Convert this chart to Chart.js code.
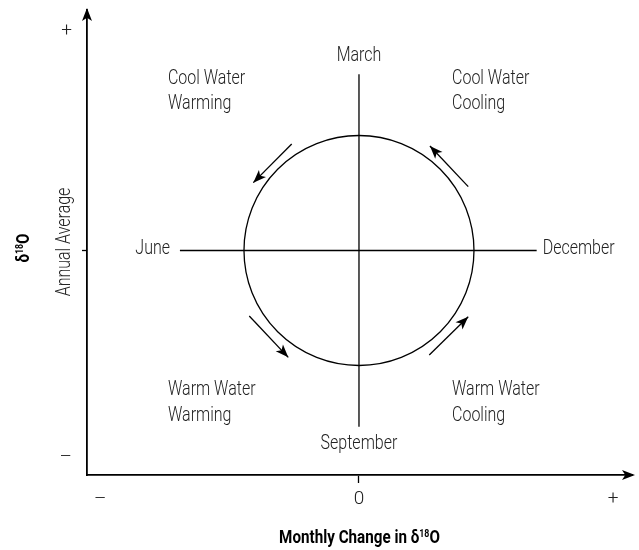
<!DOCTYPE html>
<html>
<head>
<meta charset="utf-8">
<script src="https://cdn.jsdelivr.net/npm/chart.js@4.4.1/dist/chart.umd.min.js"></script>
<style>
  html, body { margin: 0; background: #fff; }
  #wrap { width: 639px; height: 550px; }
</style>
</head>
<body>
<div id="wrap"><canvas id="c"></canvas></div>
<script>
const FONT = "Roboto, 'Liberation Sans', sans-serif";
const SQUEEZE = 0.8;   // the original uses a condensed face
const TEXT_DY = 2;     // roboto sits a bit high with 'middle'
const LABEL_FONT = `300 20px ${FONT}`;
const TEXT_COL = '#222';

// everything in units of the circle radius, origin at the circle centre
const xRange      = [-2.365, 2.374];
const yRange      = [-1.952, 2.091];
const xTickVals   = [-2.25, 0, 2.21];
const xTickLabels = ['–', '0', '+'];
const yTickVals   = [1.91, 0, -1.80];
const yTickLabels = ['+', '', '–'];

const circle = { x: 0, y: 0, r: 1 };
const crossH = [[-1.557, 0], [1.545, 0]];
const crossV = [[0, 1.532], [0, -1.532]];

// [tail, tip]
const cycleArrows = [
  [[-0.585,  0.926], [-0.919,  0.590]],
  [[ 0.950,  0.555], [ 0.617,  0.909]],
  [[-0.954, -0.570], [-0.615, -0.929]],
  [[ 0.611, -0.909], [ 0.950, -0.576]],
];

const monthNames = ['March', 'December', 'September', 'June'];
const monthPos   = [[0, 1.709], [1.597, 0.033], [0, -1.663], [-1.643, 0.033]];
const monthAlign = ['center', 'left', 'center', 'right'];

const quadNames = [['Cool Water', 'Warming'], ['Cool Water', 'Cooling'], ['Warm Water', 'Warming'], ['Warm Water', 'Cooling']];
const quadPos   = [[-1.661, 1.511], [0.809, 1.511], [-1.661, -1.198], [0.809, -1.198]];
const quadLineGap = 0.222;

const toPts = seg => seg.map(([x, y]) => ({ x, y }));

const lineDs = (pts) => ({
  data: toPts(pts), showLine: true, borderColor: '#000', borderWidth: 1.3,
  pointRadius: 0, pointHoverRadius: 0, fill: false, tension: 0,
});

const datasets = [lineDs(crossH), lineDs(crossV)];
cycleArrows.forEach(a => datasets.push(Object.assign(lineDs(a), { arrow: true })));

function arrowHead(ctx, x0, y0, x1, y1, len, half) {
  const ang = Math.atan2(y1 - y0, x1 - x0);
  ctx.beginPath();
  ctx.moveTo(x1, y1);
  ctx.lineTo(x1 - len * Math.cos(ang) + half * Math.sin(ang), y1 - len * Math.sin(ang) - half * Math.cos(ang));
  ctx.lineTo(x1 - len * 0.75 * Math.cos(ang), y1 - len * 0.75 * Math.sin(ang));
  ctx.lineTo(x1 - len * Math.cos(ang) - half * Math.sin(ang), y1 - len * Math.sin(ang) + half * Math.cos(ang));
  ctx.closePath();
  ctx.fill();
}

function narrowText(ctx, text, x, y, align) {
  ctx.save();
  ctx.textAlign = align;
  ctx.translate(x, y);
  ctx.scale(SQUEEZE, 1);
  ctx.fillText(text, 0, 0);
  ctx.restore();
}

// draws "pre" + superscript "18" + "O" centred on x
function deltaText(ctx, pre, x, y, size) {
  const big = `bold ${size}px ${FONT}`, small = `bold ${Math.round(size * 0.58)}px ${FONT}`;
  ctx.font = big;  const w1 = ctx.measureText(pre).width, w3 = ctx.measureText('O').width;
  ctx.font = small; const w2 = ctx.measureText('18').width;
  ctx.save();
  ctx.translate(x, y);
  ctx.scale(SQUEEZE, 1);
  let cx = -(w1 + w2 + w3) / 2;
  ctx.textAlign = 'left';
  ctx.textBaseline = 'alphabetic';
  ctx.font = big;   ctx.fillText(pre, cx, 0); cx += w1;
  ctx.font = small; ctx.fillText('18', cx, -size * 0.33); cx += w2;
  ctx.font = big;   ctx.fillText('O', cx, 0);
  ctx.restore();
}

const diagram = {
  id: 'diagram',
  afterDatasetsDraw(chart) {
    const { ctx, scales: { x, y }, chartArea: ca } = chart;
    ctx.save();
    ctx.strokeStyle = '#000';
    ctx.fillStyle = '#000';

    // circle
    const cx = x.getPixelForValue(circle.x), cy = y.getPixelForValue(circle.y);
    const r = x.getPixelForValue(circle.x + circle.r) - cx;
    ctx.lineWidth = 1.3;
    ctx.beginPath(); ctx.arc(cx, cy, r, 0, Math.PI * 2); ctx.stroke();

    // arrow heads on the cycle arrows
    chart.data.datasets.forEach(ds => {
      if (!ds.arrow) return;
      const [a, b] = ds.data;
      arrowHead(ctx, x.getPixelForValue(a.x), y.getPixelForValue(a.y), x.getPixelForValue(b.x), y.getPixelForValue(b.y), 13, 5);
    });

    // axis arrow heads
    arrowHead(ctx, ca.left, ca.bottom, ca.right + 3, ca.bottom, 13, 5);
    arrowHead(ctx, ca.left, ca.bottom, ca.left, ca.top - 2, 13, 5);

    // month labels
    ctx.font = LABEL_FONT;
    ctx.fillStyle = TEXT_COL;
    ctx.textBaseline = 'middle';
    monthNames.forEach((m, i) => {
      narrowText(ctx, m, x.getPixelForValue(monthPos[i][0]), y.getPixelForValue(monthPos[i][1]) + TEXT_DY, monthAlign[i]);
    });

    // quadrant labels
    quadNames.forEach((lines, i) => {
      lines.forEach((t, j) => {
        narrowText(ctx, t, x.getPixelForValue(quadPos[i][0]), y.getPixelForValue(quadPos[i][1] - j * quadLineGap) + TEXT_DY, 'left');
      });
    });

    // axis titles
    ctx.fillStyle = '#000';
    deltaText(ctx, 'Monthly Change in δ', (ca.left + ca.right) / 2, 543, 19);

    ctx.translate(29, 248);
    ctx.rotate(-Math.PI / 2);
    deltaText(ctx, 'δ', 0, 0, 19);
    ctx.font = LABEL_FONT;
    ctx.fillStyle = TEXT_COL;
    ctx.textBaseline = 'alphabetic';
    narrowText(ctx, 'Annual Average', 6, 41, 'center');
    ctx.restore();
  },
};

new Chart(document.getElementById('c'), {
  type: 'scatter',
  data: { datasets },
  options: {
    responsive: true, maintainAspectRatio: false, animation: false,
    layout: { padding: { top: 10, right: 7, left: 0, bottom: 0 } },
    plugins: { legend: { display: false }, tooltip: { enabled: false } },
    scales: {
      x: {
        type: 'linear', min: xRange[0], max: xRange[1],
        afterBuildTicks: s => { s.ticks = xTickVals.map(v => ({ value: v })); },
        afterFit: s => { s.height = 75; s.paddingLeft = 0; s.paddingRight = 0; },
        ticks: {
          color: TEXT_COL, font: { family: FONT, size: 19, weight: 300 }, padding: 5,
          callback: (v, i) => xTickLabels[i],
        },
        grid: {
          drawOnChartArea: false, drawTicks: true, tickLength: 8, tickWidth: 1.3,
          tickColor: c => (c.tick && c.tick.value === 0 ? '#000' : 'rgba(0,0,0,0)'),
        },
        border: { display: true, color: '#000', width: 1.8 },
      },
      y: {
        type: 'linear', min: yRange[0], max: yRange[1],
        afterBuildTicks: s => { s.ticks = yTickVals.map(v => ({ value: v })); },
        afterFit: s => { s.width = 87; s.paddingTop = 0; s.paddingBottom = 0; },
        ticks: {
          color: TEXT_COL, font: { family: FONT, size: 19, weight: 300 }, padding: 10,
          callback: (v, i) => yTickLabels[i],
        },
        grid: {
          drawOnChartArea: false, drawTicks: true, tickLength: 5, tickWidth: 1.3,
          tickColor: c => (c.tick && c.tick.value === 0 ? '#000' : 'rgba(0,0,0,0)'),
        },
        border: { display: true, color: '#000', width: 1.8 },
      },
    },
  },
  plugins: [diagram],
});
</script>
</body>
</html>
